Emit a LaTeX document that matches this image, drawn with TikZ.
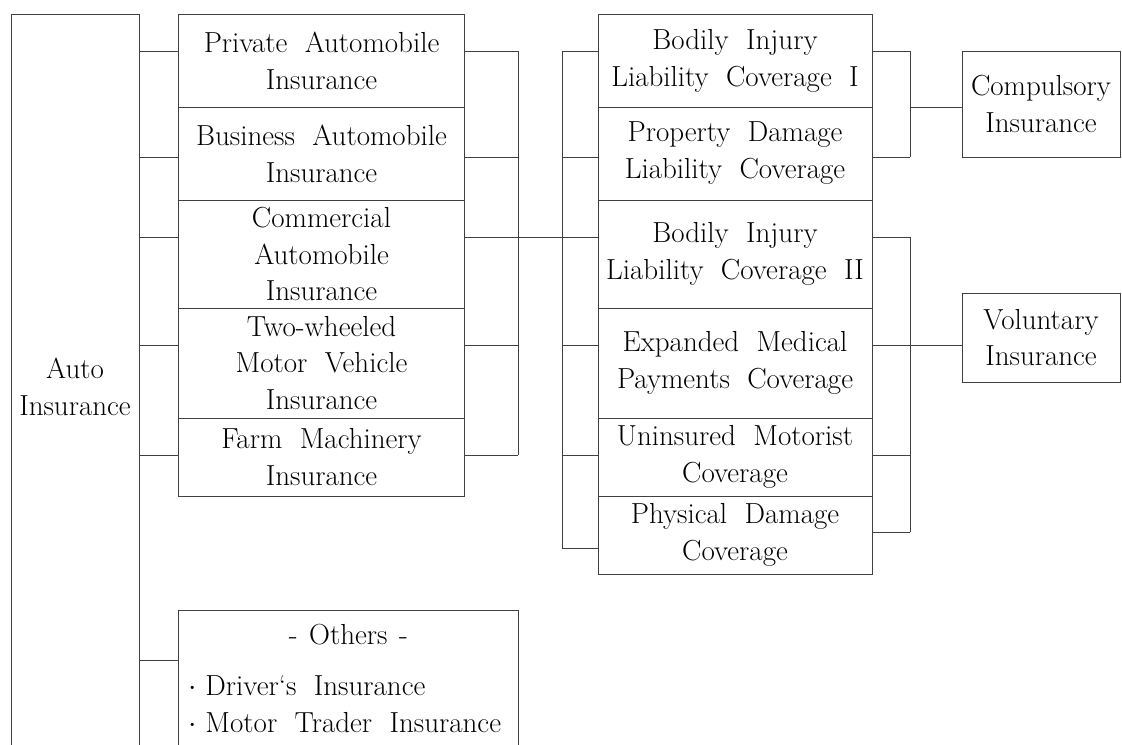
\documentclass[tikz,border=0pt]{standalone}
\usetikzlibrary{positioning}

\newcommand{\boxfont}{\fontsize{16.5}{21}\selectfont\spaceskip=0.6em plus 0.1em minus 0.1em\relax}
\tikzset{
  box/.style={draw=black!75,line width=0.55pt,align=center,inner sep=0pt,font=\boxfont},
  link/.style={draw=black!75,line width=0.55pt},
}

\begin{document}
\begin{tikzpicture}[x=0.02cm,y=-0.02cm]
\path[use as bounding box] (0,0) rectangle (1122,744);
\clip (0,0) rectangle (1122,744);
% root
\node[box,minimum width=2.56cm,minimum height=14.92cm] (auto) at (75,387) {Auto\\Insurance};
% kinds of policy
\node[box,minimum width=5.74cm,minimum height=1.86cm] (priv) at (321.5,60.5) {Private Automobile\\Insurance};
\node[box,minimum width=5.74cm,minimum height=1.86cm] (busi) at (321.5,153.5) {Business Automobile\\Insurance};
\node[box,minimum width=5.74cm,minimum height=2.16cm] (comm) at (321.5,254) {Commercial\\Automobile\\Insurance};
\node[box,minimum width=5.74cm,minimum height=2.2cm] (twow) at (321.5,363) {Two-wheeled\\Motor Vehicle\\Insurance};
\node[box,minimum width=5.74cm,minimum height=1.56cm] (farm) at (321.5,457) {Farm Machinery\\Insurance};
\node[box,minimum width=6.8cm,minimum height=3cm,anchor=north west] (oth) at (178,610) {};
\node[font=\boxfont,below=0.16cm of oth.north] (othttl) {-\hspace{0.4em}Others\hspace{0.4em}-};
\node[font=\boxfont,align=left,anchor=north west,inner sep=0pt] (othlst) at (188,675)
  {$\cdot$\hspace{0.3em}Driver‘s Insurance\\$\cdot$\hspace{0.3em}Motor Trader Insurance};
% coverages
\node[box,minimum width=5.48cm,minimum height=1.86cm] (bi1) at (735,60.5) {Bodily Injury\\Liability Coverage I};
\node[box,minimum width=5.48cm,minimum height=1.86cm] (pd) at (735,153.5) {Property Damage\\Liability Coverage};
\node[box,minimum width=5.48cm,minimum height=2.16cm] (bi2) at (735,254) {Bodily Injury\\Liability Coverage II};
\node[box,minimum width=5.48cm,minimum height=2.2cm] (emp) at (735,363) {Expanded Medical\\Payments Coverage};
\node[box,minimum width=5.48cm,minimum height=1.56cm] (um) at (735,457) {Uninsured Motorist\\Coverage};
\node[box,minimum width=5.48cm,minimum height=1.56cm] (phd) at (735,535) {Physical Damage\\Coverage};
% compulsory / voluntary
\node[box,minimum width=3.16cm,minimum height=2.12cm] (comp) at (1041,104) {Compulsory\\Insurance};
\node[box,minimum width=3.16cm,minimum height=1.78cm] (vol) at (1041,337.5) {Voluntary\\Insurance};

\coordinate (lbar) at (518,0);
\coordinate (rbar) at (562,0);
\coordinate (cbar) at (910,0);

% root to kinds
\foreach \n/\y in {priv/51,busi/157,comm/237,twow/345,farm/455,oth/660}
  \draw[link] (auto.east |- 0,\y) -- (\n.west |- 0,\y);
% kinds to coverages
\foreach \n/\y in {priv/51,busi/157,twow/345,farm/455}
  \draw[link] (\n.east |- 0,\y) -- (lbar |- 0,\y);
\draw[link] (lbar |- 0,51) -- (lbar |- 0,455);
\draw[link] (comm.east |- 0,237) -- (bi2.west |- 0,237);
\foreach \n/\y in {bi1/51,pd/157,emp/345,um/455,phd/548}
  \draw[link] (rbar |- 0,\y) -- (\n.west |- 0,\y);
\draw[link] (rbar |- 0,51) -- (rbar |- 0,548);
% coverages to compulsory / voluntary
\foreach \n/\y in {bi1/51,pd/157}
  \draw[link] (\n.east |- 0,\y) -- (cbar |- 0,\y);
\draw[link] (cbar |- 0,51) -- (cbar |- 0,157);
\draw[link] (cbar |- 0,107) -- (comp.west |- 0,107);
\foreach \n/\y in {bi2/237,emp/345,um/455,phd/532}
  \draw[link] (\n.east |- 0,\y) -- (cbar |- 0,\y);
\draw[link] (cbar |- 0,237) -- (cbar |- 0,532);
\draw[link] (cbar |- 0,345) -- (vol.west |- 0,345);
\end{tikzpicture}
\end{document}
